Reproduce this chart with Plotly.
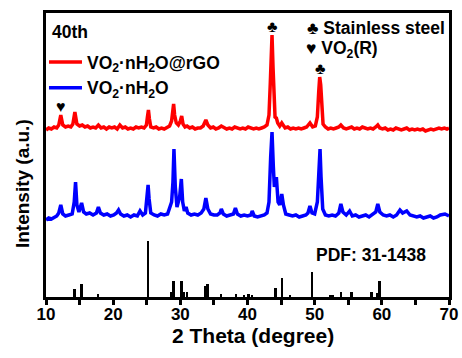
import plotly.graph_objects as go

# ---------------- data (heights in arbitrary intensity units) ----------------
red_2theta = [10.0, 10.4, 10.8, 11.2, 11.6, 11.9, 12.2, 12.5, 12.9, 13.3, 13.7, 14.0, 14.3, 14.6, 15.0, 15.4,
              15.8, 16.2, 16.6, 17.0, 17.4, 17.8, 18.2, 18.6, 19.0, 19.4, 19.8, 20.2, 20.6, 21.0, 21.4, 21.8,
              22.2, 22.6, 23.0, 23.4, 23.8, 24.2, 24.6, 24.95, 25.1, 25.25, 25.4, 25.6, 26.0, 26.4, 26.8, 27.2,
              27.6, 28.0, 28.4, 28.7, 28.9, 29.0, 29.15, 29.4, 29.7, 30.0, 30.2, 30.4, 30.7, 31.0, 31.4, 31.8,
              32.2, 32.6, 33.0, 33.4, 33.8, 34.1, 34.5, 34.9, 35.3, 35.7, 36.1, 36.5, 36.9, 37.3, 37.7, 38.1,
              38.5, 38.9, 39.3, 39.7, 40.1, 40.5, 40.9, 41.3, 41.7, 42.1, 42.5, 42.9, 43.2, 43.4, 43.55, 43.65,
              43.8, 43.95, 44.1, 44.3, 44.5, 44.8, 45.1, 45.3, 45.6, 46.0, 46.4, 46.8, 47.2, 47.6, 48.0, 48.4,
              48.8, 49.3, 49.7, 50.1, 50.4, 50.6, 50.75, 50.9, 51.05, 51.25, 51.6, 52.0, 52.4, 52.8, 53.2, 53.6,
              53.9, 54.3, 54.7, 55.1, 55.5, 55.9, 56.3, 56.7, 57.1, 57.5, 57.9, 58.3, 58.7, 59.1, 59.4, 59.7,
              60.1, 60.5, 60.9, 61.3, 61.7, 62.1, 62.5, 62.9, 63.3, 63.7, 64.1, 64.5, 64.9, 65.3, 65.7, 66.1,
              66.5, 66.9, 67.3, 67.7, 68.1, 68.5, 68.9, 69.3, 69.7, 70.0]
red_int = [167, 169, 168, 170, 169, 172, 182, 172, 170, 171, 170, 173, 185, 173, 171, 172,
           170, 171, 169, 170, 169, 172, 169, 170, 168, 170, 169, 170, 168, 172, 169, 170,
           168, 169, 168, 170, 169, 170, 169, 172, 180, 187, 178, 170, 169, 170, 168, 169,
           168, 170, 171, 176, 185, 193, 182, 174, 172, 176, 181, 173, 170, 171, 169, 170,
           168, 169, 169, 171, 177, 172, 169, 170, 168, 169, 171, 169, 168, 169, 168, 170,
           169, 168, 169, 168, 170, 169, 168, 169, 168, 169, 170, 172, 182, 215, 255, 262,
           230, 190, 180, 179, 174, 171, 174, 172, 169, 170, 168, 169, 168, 169, 168, 169,
           170, 174, 170, 171, 180, 205, 220, 212, 188, 173, 170, 168, 169, 168, 169, 170,
           172, 169, 168, 169, 170, 168, 169, 168, 170, 169, 168, 169, 168, 170, 172, 169,
           168, 169, 167, 168, 167, 169, 168, 167, 168, 169, 167, 168, 167, 168, 167, 168,
           166, 167, 168, 167, 168, 169, 168, 169, 168, 169]

blue_2theta = [10.0, 10.4, 10.8, 11.2, 11.6, 11.9, 12.2, 12.5, 12.9, 13.4, 13.9, 14.2, 14.4, 14.6, 14.9, 15.3,
               15.6, 16.0, 16.5, 17.0, 17.5, 17.8, 18.1, 18.6, 19.1, 19.6, 20.1, 20.5, 20.8, 21.1, 21.6, 22.1,
               22.6, 23.1, 23.6, 24.0, 24.4, 24.8, 25.05, 25.2, 25.35, 25.6, 26.1, 26.6, 27.1, 27.6, 28.1, 28.5,
               28.7, 28.9, 29.05, 29.25, 29.5, 29.9, 30.15, 30.35, 30.6, 30.85, 31.1, 31.6, 32.1, 32.6, 33.1, 33.5,
               33.8, 34.1, 34.5, 35.0, 35.5, 35.9, 36.1, 36.4, 36.9, 37.4, 37.9, 38.2, 38.5, 39.0, 39.5, 40.0,
               40.5, 40.7, 41.0, 41.5, 42.0, 42.5, 42.9, 43.2, 43.45, 43.65, 43.85, 44.0, 44.3, 44.55, 44.8, 45.1,
               45.35, 45.7, 46.2, 46.7, 47.2, 47.7, 48.2, 48.7, 49.0, 49.3, 49.6, 50.0, 50.4, 50.65, 50.8, 50.95,
               51.2, 51.6, 52.1, 52.6, 53.1, 53.6, 53.9, 54.2, 54.7, 55.2, 55.6, 56.1, 56.6, 57.1, 57.6, 58.1,
               58.6, 59.1, 59.4, 59.7, 60.2, 60.7, 61.2, 61.7, 62.2, 62.7, 63.1, 63.7, 64.2, 64.7, 65.2, 65.7,
               66.2, 66.7, 67.2, 67.7, 68.2, 68.7, 69.4, 70.0]
blue_int = [77, 79, 78, 80, 81, 84, 92, 83, 81, 82, 83, 95, 115, 92, 85, 94,
            85, 83, 84, 82, 84, 90, 84, 82, 83, 81, 82, 84, 87, 83, 81, 82,
            80, 82, 81, 86, 82, 84, 98, 112, 98, 84, 82, 81, 83, 82, 83, 92,
            95, 115, 148, 110, 90, 100, 118, 95, 86, 90, 84, 82, 83, 82, 84, 88,
            99, 88, 83, 82, 82, 84, 88, 83, 81, 82, 83, 89, 83, 81, 82, 81,
            82, 86, 81, 80, 81, 82, 84, 95, 140, 165, 130, 110, 120, 95, 92, 103,
            92, 83, 82, 81, 82, 80, 81, 82, 84, 91, 84, 83, 95, 130, 148, 120,
            88, 82, 81, 82, 81, 84, 93, 85, 82, 86, 81, 82, 80, 81, 82, 80,
            82, 85, 93, 85, 82, 81, 82, 80, 82, 87, 84, 86, 82, 81, 80, 81,
            79, 80, 81, 79, 80, 82, 83, 81]

pdf_2theta = [14.3, 15.3, 17.8, 25.2, 28.7, 29.0, 30.2, 30.5, 31.0, 33.7, 34.1, 36.1, 38.3, 39.5, 40.2, 40.7,
              44.2, 45.2, 46.4, 49.6, 52.4, 52.8, 54.0, 55.5, 58.5, 59.4, 59.7]
pdf_int = [8, 13, 3, 56, 5, 16.5, 16.5, 5, 5, 11, 13, 3, 3, 2.5, 3, 2.5,
           9, 19, 2.5, 25, 2, 2, 5, 5, 5, 4, 16.5]

series_names = ["VO<sub>2</sub>·nH<sub>2</sub>O@rGO", "VO<sub>2</sub>·nH<sub>2</sub>O"]
x_ticks = [10, 20, 30, 40, 50, 60, 70]

FONT = "Arial, Liberation Sans, sans-serif"

fig = go.Figure()
fig.add_trace(go.Scatter(x=red_2theta, y=red_int, mode="lines", name=series_names[0],
                         line=dict(color="#FF0000", width=3.5)))
fig.add_trace(go.Scatter(x=blue_2theta, y=blue_int, mode="lines", name=series_names[1],
                         line=dict(color="#0000FF", width=3.5)))
fig.add_trace(go.Bar(x=pdf_2theta, y=pdf_int, width=0.28, marker=dict(color="black", line=dict(width=0)),
                     showlegend=False))

fig.update_layout(
    width=462, height=358,
    margin=dict(l=46, r=13, t=13, b=61, autoexpand=False),
    paper_bgcolor="white", plot_bgcolor="white",
    font=dict(family=FONT, color="black"),
    showlegend=True,
    legend=dict(x=-0.005, y=(297 - 44) / 284, xanchor="left", yanchor="top", bgcolor="rgba(0,0,0,0)",
                font=dict(size=17.5, family=FONT, color="black", weight="bold"),
                itemwidth=33, tracegroupgap=0),
    bargap=0,
)
fig.update_xaxes(range=[10, 70], tickvals=x_ticks, ticks="outside", ticklen=5, tickwidth=2.5,
                 minor=dict(dtick=5, ticks="outside", ticklen=5, tickwidth=2.5, tickcolor="black"),
                 tickcolor="black", showline=True, linewidth=3, linecolor="black", mirror=True,
                 showgrid=False, zeroline=False, automargin=False, ticklabelstandoff=-5,
                 tickfont=dict(size=17, family=FONT, weight="bold"))
fig.update_yaxes(range=[0, 284], showticklabels=False, ticks="", showline=True, linewidth=3,
                 linecolor="black", mirror=True, showgrid=False, zeroline=False, automargin=False)

ann_font = dict(family=FONT, size=16, color="black", weight="bold")
fig.add_annotation(text="2 Theta (degree)", xref="paper", yref="paper", x=(254 - 46) / 404,
                   y=(297 - 335) / 284, xanchor="center", yanchor="middle", showarrow=False,
                   font=dict(family=FONT, size=21, color="black", weight="bold"))
fig.add_annotation(text="Intensity (a.u.)", xref="paper", yref="paper", x=(22 - 46) / 404,
                   y=(297 - 184) / 284, xanchor="center", yanchor="middle",
                   textangle=-90, showarrow=False, font=dict(family=FONT, size=19, color="black", weight="bold"))
fig.add_annotation(text="40th", xref="paper", yref="paper", x=0.01, y=(297 - 31.7) / 284,
                   xanchor="left", yanchor="middle", showarrow=False, font=dict(ann_font, size=17.5))
fig.add_annotation(text="♣ Stainless steel", xref="paper", yref="paper", x=0.995, y=(297 - 28) / 284,
                   xanchor="right", yanchor="middle", showarrow=False, font=dict(ann_font, size=17.5))
fig.add_annotation(text="♥ VO<sub>2</sub>(R)", xref="paper", yref="paper", x=(305 - 46) / 404,
                   y=(297 - 49) / 284, xanchor="left", yanchor="middle", showarrow=False,
                   font=dict(ann_font, size=17.5))
fig.add_annotation(text="PDF: 31-1438", xref="paper", yref="paper", x=(429 - 46) / 404,
                   y=(297 - 255) / 284, xanchor="right", yanchor="middle", showarrow=False,
                   font=dict(ann_font, size=17.5))
# peak markers
fig.add_annotation(text="♣", x=43.65, y=262, yshift=9, showarrow=False, font=dict(ann_font, size=16))
fig.add_annotation(text="♣", x=50.8, y=220, yshift=9, showarrow=False, font=dict(ann_font, size=16))
fig.add_annotation(text="♥", x=12.2, y=182, yshift=9, showarrow=False, font=dict(ann_font, size=16))

fig.write_html("out.html", config={"displayModeBar": False},
               post_script="document.body.style.margin='0';")
